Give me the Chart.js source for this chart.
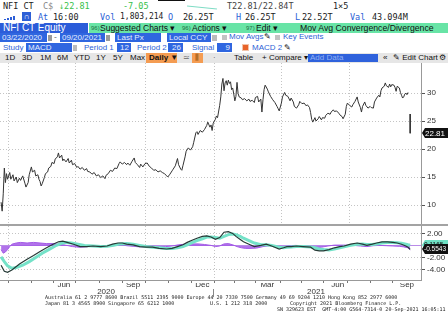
<!DOCTYPE html>
<html>
<head>
<meta charset="utf-8">
<script src="https://cdn.jsdelivr.net/npm/chart.js@4/dist/chart.umd.min.js"></script>
<style>
  body { margin: 0; width: 448px; height: 322px; overflow: hidden; background: #fff; position: relative; font-family: "Liberation Sans", Arial, sans-serif; }
  .t { position: absolute; white-space: pre; line-height: 10px; height: 10px; }
  .mono { font-family: "DejaVu Sans Mono", monospace; font-size: 8.5px; color: #222; }
  .sans { font-size: 8.5px; color: #111; }
  .sm { font-size: 8px; }
  .b { color: #2d5fd6; }
  .g { color: #38bf4c; }
  .box { position: absolute; background: #2f66e0; color: #e6edff; font-size: 8px; line-height: 9px; height: 9px; padding-left: 2px; white-space: pre; box-sizing: border-box; overflow: hidden; }
  .ob { position: absolute; background: #f49c52; color: #111; font-size: 8px; line-height: 10px; height: 10px; white-space: pre; box-sizing: border-box; padding-left: 3px; }
  .chk { position: absolute; width: 5px; height: 5px; background: #c3c3c3; }
  .ico { position: absolute; width: 4px; height: 6px; background: #9a9a9a; }
  .foot { position: absolute; white-space: pre; font-family: "DejaVu Sans Mono", monospace; font-size: 5px; line-height: 6px; color: #222; }
  canvas { position: absolute; left: 0; }
</style>
</head>
<body>
<!-- row 1 -->
<div style="position:absolute;left:158px;top:0;width:27px;height:1px;background:#111"></div>
<div style="position:absolute;left:187px;top:7px;width:30px;height:1px;background:#7fdcc5;transform:rotate(6deg)"></div>
<span class="t mono" style="left:3px;top:1px">NFI CT</span>
<span class="t mono" style="left:43px;top:1px;color:#888">C$</span>
<span class="t mono g" style="left:59px;top:1px">↓22.81</span>
<span class="t mono g" style="left:123px;top:1px">-7.05</span>
<span class="t mono" style="left:227px;top:1px;color:#444">T22.81/22.84T</span>
<span class="t mono" style="left:333px;top:1px">1×5</span>
<!-- row 2 -->
<div style="position:absolute;left:4px;top:19px;width:2px;height:1px;background:#2d5fd6"></div>
<div style="position:absolute;left:7px;top:18px;width:2px;height:2px;background:#2d5fd6"></div>
<div style="position:absolute;left:10px;top:17px;width:2px;height:3px;background:#2d5fd6"></div>
<div style="position:absolute;left:13px;top:16px;width:2px;height:4px;background:#2d5fd6"></div>
<div style="position:absolute;left:22px;top:12px;width:9px;height:9px;background:#2d5fd6;color:#fff;font-size:8px;line-height:9px;text-align:center">∩</div>
<span class="t mono b" style="left:38px;top:12px">At</span>
<span class="t mono" style="left:53px;top:12px">16:00</span>
<span class="t mono b" style="left:100px;top:12px">Vol</span>
<span class="t mono" style="left:120px;top:12px;font-size:8px">1,803,214</span>
<span class="t mono b" style="left:168px;top:12px">O</span>
<span class="t mono" style="left:183px;top:12px">26.25T</span>
<span class="t mono b" style="left:236px;top:12px">H</span>
<span class="t mono" style="left:245px;top:12px">26.25T</span>
<span class="t mono b" style="left:295px;top:12px">L</span>
<span class="t mono" style="left:302px;top:12px">22.52T</span>
<span class="t mono b" style="left:350px;top:12px">Val</span>
<span class="t mono" style="left:372px;top:12px">43.094M</span>
<!-- row 3 -->
<div class="box" style="left:0;top:23px;width:88px;height:10px;line-height:10px;font-size:10px;padding-left:3px;background:#2b5cd9;color:#fff">NFI CT Equity</div>
<div style="position:absolute;left:89px;top:23px;width:359px;height:10px;background:#68e4a6"></div>
<span class="t sans" style="left:91px;top:23px;font-size:6px;color:#1d6e44">96)</span>
<span class="t sans" style="left:100px;top:23px">Suggested Charts ▾</span>
<span class="t sans" style="left:182px;top:23px;font-size:6px;color:#1d6e44">96)</span>
<span class="t sans" style="left:192px;top:23px">Actions ▾</span>
<span class="t sans" style="left:246px;top:23px;font-size:6px;color:#1d6e44">97)</span>
<span class="t sans" style="left:256px;top:23px">Edit ▾</span>
<span class="t sans" style="left:300px;top:23px;font-size:8.7px">Mov Avg Convergence/Divergence</span>
<!-- row 4 -->
<div class="box" style="left:0;top:33px;width:47px">03/22/2020</div>
<div class="ico" style="left:48px;top:35px"></div>
<span class="t sans" style="left:54px;top:32px;color:#777">-</span>
<div class="box" style="left:60px;top:33px;width:45px">09/20/2021</div>
<div class="ico" style="left:106px;top:35px"></div>
<div class="box" style="left:115px;top:33px;width:46px">Last Px</div>
<div class="box" style="left:167px;top:33px;width:44px">Local CCY</div>
<div class="ico" style="left:212px;top:35px;width:5px;background:#bbb"></div>
<div class="chk" style="left:222px;top:35px"></div>
<span class="t sans sm b" style="left:229px;top:32px">Mov Avgs</span>
<span class="t sans sm" style="left:264px;top:32px">✎</span>
<div class="chk" style="left:275px;top:35px"></div>
<span class="t sans sm b" style="left:283px;top:32px">Key Events</span>
<!-- row 5 -->
<span class="t sans sm b" style="left:3px;top:43px">Study</span>
<div class="box" style="left:26px;top:43px;width:46px">MACD</div>
<div class="ico" style="left:73px;top:45px;width:4px;background:#bbb"></div>
<span class="t sans sm b" style="left:84px;top:43px">Period 1</span>
<div class="box" style="left:117px;top:43px;width:14px;text-align:right;padding-right:2px">12</div>
<span class="t sans sm b" style="left:137px;top:43px">Period 2</span>
<div class="box" style="left:168px;top:43px;width:15px;text-align:right;padding-right:2px">26</div>
<span class="t sans sm b" style="left:192px;top:43px">Signal</span>
<div class="box" style="left:217px;top:43px;width:15px;text-align:right;padding-right:2px">9</div>
<div class="chk" style="left:243px;top:45px;background:#e8642a;box-shadow:0 0 0 1px #f3c3a8"></div>
<span class="t sans sm b" style="left:252px;top:43px">MACD 2</span>
<span class="t sans sm" style="left:284px;top:43px">✎</span>
<!-- row 6 -->
<div style="position:absolute;left:0;top:53px;width:448px;height:10px;background:#e6e6e6"></div>
<span class="t sans sm" style="left:5px;top:53px">1D</span>
<span class="t sans sm" style="left:22px;top:53px">3D</span>
<span class="t sans sm" style="left:40px;top:53px">1M</span>
<span class="t sans sm" style="left:57px;top:53px">6M</span>
<span class="t sans sm" style="left:74px;top:53px">YTD</span>
<span class="t sans sm" style="left:96px;top:53px">1Y</span>
<span class="t sans sm" style="left:113px;top:53px">5Y</span>
<span class="t sans sm" style="left:130px;top:53px">Max</span>
<div class="ob" style="left:146px;top:53px;width:31px;font-weight:bold">Daily ▼</div>
<span class="t sans sm" style="left:183px;top:53px;color:#666">≃</span>
<div class="ob" style="left:192px;top:53px;width:11px;color:#7a3a00">⫼</div>
<span class="t sans sm" style="left:213px;top:53px;color:#555">·</span>
<span class="t sans sm" style="left:234px;top:53px">Table</span>
<span class="t sans sm" style="left:262px;top:53px">+ Compare ▾</span>
<div class="box" style="left:308px;top:54px;width:70px;height:8px;line-height:8px;color:#8fb0f2;background:#2f62dc">Add Data</div>
<span class="t sans sm" style="left:383px;top:53px">«</span>
<span class="t sans sm" style="left:393px;top:53px">✎ Edit Chart</span>
<span class="t sans sm" style="left:439px;top:53px">⚙</span>

<canvas id="price" width="448" height="162" style="top:63px"></canvas>
<div style="position:absolute;left:0;top:224px;width:448px;height:2px;background:#a3a3a3"></div>
<canvas id="macd" width="448" height="71" style="top:226px"></canvas>

<div class="foot" style="left:45px;top:294px">Australia 61 2 9777 8600 Brazil 5511 2395 9000 Europe 44 20 7330 7500 Germany 49 69 9204 1210 Hong Kong 852 2977 6000</div>
<div class="foot" style="left:45px;top:300px">Japan 81 3 4565 8900</div>
<div class="foot" style="left:108px;top:300px">Singapore 65 6212 1000</div>
<div class="foot" style="left:210px;top:300px">U.S. 1 212 318 2000</div>
<div class="foot" style="left:290px;top:300px">Copyright 2021 Bloomberg Finance L.P.</div>
<div class="foot" style="left:277px;top:306px">SN 329623 EST  GMT-4:00 G564-7314-0 20-Sep-2021 16:05:11</div>

<script>
// x values are trading-day indexes counted from 03/23/2020
const xMin = -1;
const xMax = 388;

// NFI CT last price, [day, price]
const priceSeries = [
  [0, 10.5], [1, 8.9], [2, 12.0], [3, 16.6], [4, 14.0], [5, 15.6], [6, 14.6], [8, 15.8], [9, 14.6], [11, 15.4],
  [12, 14.3], [14, 15.0], [15, 14.0], [17, 14.8], [18, 14.4], [20, 15.2], [22, 13.9], [23, 13.2], [25, 14.0], [26, 15.4],
  [28, 16.8], [29, 15.9], [31, 16.2], [32, 15.2], [34, 15.4], [35, 14.6], [36, 14.2], [37, 13.4], [38, 13.8], [40, 14.9],
  [41, 15.6], [43, 15.9], [44, 16.6], [46, 16.9], [47, 17.6], [49, 17.4], [50, 18.2], [52, 18.6], [53, 19.3], [54, 18.4],
  [56, 18.9], [57, 17.9], [58, 18.2], [60, 17.7], [62, 18.3], [63, 17.5], [65, 18.0], [66, 17.2], [68, 17.4], [70, 16.7],
  [71, 16.9], [73, 16.4], [75, 16.7], [77, 16.2], [79, 16.5], [80, 16.0], [82, 15.9], [84, 15.5], [86, 15.8], [88, 15.2],
  [90, 15.4], [92, 14.9], [94, 15.2], [96, 14.7], [97, 15.3], [99, 15.6], [101, 16.2], [103, 16.0], [105, 16.6], [107, 16.5],
  [109, 17.4], [110, 17.7], [112, 17.3], [114, 17.6], [116, 17.2], [117, 17.5], [119, 17.1], [121, 17.8], [123, 18.4], [124, 17.6],
  [126, 17.2], [128, 16.7], [129, 17.3], [131, 16.8], [133, 17.4], [135, 17.5], [137, 16.9], [139, 16.6], [141, 16.2], [143, 16.3],
  [145, 15.9], [147, 16.1], [149, 15.8], [151, 15.6], [153, 15.2], [154, 15.0], [156, 15.5], [158, 16.1], [159, 16.4], [161, 17.0],
  [163, 18.3], [164, 17.2], [166, 16.4], [167, 16.2], [168, 17.0], [170, 18.6], [171, 19.6], [173, 20.2], [175, 19.8], [177, 20.4],
  [178, 21.2], [180, 22.9], [181, 23.1], [182, 22.6], [184, 23.3], [186, 23.0], [188, 23.5], [190, 24.2], [191, 24.8], [193, 23.9],
  [194, 24.3], [195, 23.3], [196, 24.6], [198, 25.3], [199, 25.9], [200, 25.6], [202, 27.8], [203, 29.3], [204, 31.6], [205, 32.6],
  [206, 30.4], [207, 31.8], [208, 32.2], [209, 31.4], [210, 32.3], [211, 31.7], [212, 32.0], [213, 30.6], [214, 30.9], [215, 29.8],
  [216, 28.6], [217, 29.4], [218, 31.9], [219, 29.9], [220, 29.3], [222, 29.1], [223, 28.8], [225, 29.0], [227, 28.6], [229, 28.9],
  [230, 28.5], [232, 28.7], [234, 28.3], [235, 29.2], [237, 29.4], [238, 28.4], [240, 28.9], [241, 26.6], [242, 28.8], [243, 30.6],
  [244, 31.4], [246, 30.7], [247, 30.2], [249, 29.4], [251, 28.8], [253, 28.3], [255, 27.6], [256, 27.2], [257, 26.8], [259, 28.2],
  [260, 29.3], [262, 30.1], [263, 29.6], [265, 29.4], [267, 28.6], [268, 29.1], [270, 28.4], [271, 27.6], [273, 27.3], [275, 27.9],
  [276, 28.5], [278, 28.1], [280, 28.2], [282, 27.7], [283, 27.9], [285, 27.4], [286, 26.5], [287, 25.3], [288, 24.8], [290, 25.6],
  [291, 25.0], [293, 25.4], [294, 25.8], [296, 25.2], [297, 25.6], [299, 25.5], [300, 26.0], [302, 26.4], [304, 26.2], [305, 26.6],
  [307, 27.0], [308, 26.7], [310, 26.8], [312, 26.4], [313, 26.1], [315, 25.8], [316, 25.4], [318, 26.2], [319, 27.6], [320, 28.2],
  [322, 27.8], [324, 27.5], [325, 27.9], [327, 28.5], [329, 29.3], [330, 28.4], [332, 27.4], [333, 26.6], [334, 27.6], [336, 28.4],
  [337, 27.8], [339, 27.3], [341, 27.6], [342, 27.4], [344, 27.3], [345, 28.4], [347, 29.1], [349, 29.6], [350, 29.3], [351, 30.4],
  [352, 30.9], [354, 31.2], [355, 31.8], [356, 31.3], [358, 31.0], [359, 31.6], [360, 31.1], [361, 31.5], [363, 31.4], [364, 31.0],
  [365, 30.3], [366, 31.2], [368, 30.9], [369, 30.1], [370, 29.6], [371, 29.1], [372, 29.3], [373, 29.8], [374, 30.0], [375, 29.7],
  [376, 30.1]
];

// last session (09/20/2021): open and last
const lastDayIdx = 378;
const openPx = 26.25;
const lastPx = 22.81;

// MACD(12,26,9) readings, [day, value]
const macdSeries = [
  [0, -3.2], [3, -4.2], [6, -4.4], [10, -4.0], [17, -3.0], [24, -2.2], [30, -1.6], [36, -0.9], [42, -0.3], [48, 0.3],
  [53, 0.7], [57, 0.8], [61, 0.6], [67, 0.3], [73, -0.1], [79, -0.1], [85, 0.0], [92, -0.1], [98, 0.0], [103, 0.3],
  [108, 0.5], [112, 0.5], [116, 0.3], [122, 0.2], [128, -0.1], [134, -0.2], [140, -0.2], [146, -0.4], [153, -0.5], [158, -0.4],
  [163, -0.1], [168, 0.2], [172, 0.6], [177, 1.0], [181, 1.3], [186, 1.6], [190, 1.7], [194, 1.5], [198, 1.1], [202, 1.4],
  [206, 2.3], [210, 2.4], [214, 2.1], [217, 1.6], [221, 1.1], [224, 0.7], [229, 0.3], [234, -0.1], [240, 0.1], [245, 0.3],
  [250, 0.0], [257, -0.5], [261, -0.3], [264, -0.1], [268, -0.1], [273, 0.0], [279, -0.1], [286, -0.2], [290, -0.7], [294, -0.8],
  [298, -0.8], [303, -0.6], [308, -0.3], [313, -0.1], [317, 0.0], [323, 0.3], [329, 0.5], [334, 0.3], [338, 0.1], [343, 0.3],
  [347, 0.5], [352, 0.7], [357, 0.7], [362, 0.6], [366, 0.5], [370, 0.3], [374, 0.0], [376, -0.2], [378, -0.5543]
];

const signalSeries = [
  [0, -1.8], [3, -2.6], [6, -3.3], [10, -3.7], [14, -3.6], [20, -3.2], [26, -2.6], [32, -1.9], [38, -1.2], [44, -0.6],
  [50, 0.0], [55, 0.4], [60, 0.6], [65, 0.5], [71, 0.3], [77, 0.1], [85, 0.0], [92, -0.1], [98, -0.05], [104, 0.1],
  [110, 0.35], [116, 0.4], [122, 0.3], [128, 0.1], [134, -0.1], [140, -0.2], [146, -0.3], [153, -0.4], [158, -0.4], [163, -0.3],
  [168, -0.1], [172, 0.2], [177, 0.6], [181, 0.9], [186, 1.2], [190, 1.5], [194, 1.5], [198, 1.4], [202, 1.3], [206, 1.6],
  [210, 1.9], [214, 2.0], [217, 1.9], [221, 1.6], [224, 1.3], [229, 0.9], [234, 0.5], [240, 0.2], [245, 0.2], [250, 0.1],
  [257, -0.2], [261, -0.3], [264, -0.2], [268, -0.15], [273, -0.1], [279, -0.1], [286, -0.15], [290, -0.3], [294, -0.5], [298, -0.6],
  [303, -0.65], [308, -0.5], [313, -0.3], [317, -0.15], [323, 0.1], [329, 0.3], [334, 0.35], [338, 0.25], [343, 0.25], [347, 0.35],
  [352, 0.5], [357, 0.6], [362, 0.6], [366, 0.55], [370, 0.45], [374, 0.3], [376, 0.2], [378, 0.1165]
];

const histSeries = [
  [0, -0.6], [2, -1.2], [4, -1.0], [6, -0.6], [8, -0.1], [10, 0.3], [14, 0.5], [18, 0.6], [24, 0.5], [30, 0.6],
  [36, 0.5], [42, 0.4], [48, 0.4], [53, 0.3], [58, 0.2], [62, 0.05], [66, -0.1], [72, -0.2], [78, -0.15], [85, 0.0],
  [92, -0.05], [98, 0.05], [104, 0.15], [110, 0.2], [116, 0.05], [122, -0.05], [128, -0.15], [134, -0.1], [140, -0.05], [146, -0.1],
  [152, -0.1], [158, 0.0], [164, 0.2], [170, 0.3], [176, 0.35], [182, 0.35], [188, 0.25], [194, 0.1], [198, -0.1], [202, 0.0],
  [206, 0.35], [210, 0.4], [214, 0.2], [218, -0.1], [222, -0.3], [226, -0.4], [230, -0.4], [236, -0.35], [242, -0.1], [248, 0.05],
  [254, -0.1], [260, -0.25], [266, 0.05], [272, 0.1], [278, 0.05], [284, -0.05], [290, -0.25], [296, -0.2], [302, 0.0], [308, 0.15],
  [314, 0.15], [320, 0.15], [326, 0.1], [332, 0.0], [338, -0.1], [344, 0.05], [350, 0.1], [356, 0.05], [362, 0.0], [368, -0.05],
  [372, -0.15], [376, -0.3], [378, -0.65]
];

const priceTicks = [10, 15, 20, 25, 30];
const macdTicks = [2, 0, -2, -4];
const quarterStarts = [7, 69, 133, 197, 259, 322];
const monthStarts = [7, 28, 48, 69, 91, 112, 133, 155, 176, 197, 216, 235, 258, 278, 298, 320, 341, 362];
const monthMid = [58, 122, 186, 246, 311, 375];
const monthLabels = ['Jun', 'Sep', 'Dec', 'Mar', 'Jun', 'Sep'];
const yearMid = [97, 196, 291];
const yearLabels = ['2020', '', '2021'];

const tickFont = { family: 'Liberation Sans', size: 8, lineHeight: 1 };
const gridGrey = '#c4c4c4';
const dots = [1, 2];
const none = 'rgba(0,0,0,0)';

const toPoints = (arr) => arr.map(([x, y]) => ({ x, y }));
const setTicks = (values) => (scale) => { scale.ticks = values.map((v) => ({ value: v })); };
const rightAxisFit = (scale) => { scale.width = 27; scale.paddingTop = 0; scale.paddingBottom = 0; };
const bottomFit = (h) => (scale) => { scale.height = h; scale.paddingLeft = 0; scale.paddingRight = 0; };
const tickVal = (ctx) => (ctx.tick ? ctx.tick.value : null);
const lastOf = (arr) => arr[arr.length - 1][1];

// value tags on the right axis
const tagPlugin = {
  id: 'tags',
  afterDraw(chart, args, opts) {
    const { ctx, chartArea } = chart;
    const y = chart.scales.y;
    (opts.items || []).forEach((item) => {
      const py = Math.round(y.getPixelForValue(item.value));
      const left = chartArea.right + 1;
      ctx.save();
      ctx.fillStyle = item.bg;
      ctx.beginPath();
      ctx.moveTo(left, py);
      ctx.lineTo(left + 3, py - 5);
      ctx.lineTo(chart.width, py - 5);
      ctx.lineTo(chart.width, py + 5);
      ctx.lineTo(left + 3, py + 5);
      ctx.closePath();
      ctx.fill();
      ctx.fillStyle = item.fg;
      ctx.font = (item.size || 8) + 'px "Liberation Sans"';
      ctx.textBaseline = 'middle';
      ctx.fillText(item.text, left + (item.inset || 3), py + 0.5, chart.width - left - 2);
      ctx.restore();
    });
  }
};

const baseOptions = {
  responsive: false,
  animation: false,
  events: [],
  layout: { padding: 0 },
};

new Chart(document.getElementById('price'), {
  type: 'line',
  data: {
    datasets: [
      { data: toPoints(priceSeries), borderColor: '#333', borderWidth: 1, pointRadius: 0 },
      { data: [{ x: lastDayIdx, y: openPx }, { x: lastDayIdx, y: lastPx }], borderColor: '#333', borderWidth: 1, pointRadius: 0 }
    ]
  },
  options: {
    ...baseOptions,
    plugins: {
      legend: { display: false },
      tooltip: { enabled: false },
      tags: { items: [{ value: lastPx, text: lastPx.toFixed(2), bg: '#111', fg: '#fff' }] }
    },
    scales: {
      x: {
        type: 'linear', min: xMin, max: xMax,
        afterBuildTicks: setTicks(quarterStarts),
        ticks: { display: false },
        grid: { color: gridGrey, drawTicks: false },
        border: { display: false, dash: dots },
        afterFit: bottomFit(0)
      },
      y: {
        position: 'right', min: 6.43, max: 35.357,
        afterBuildTicks: setTicks(priceTicks),
        ticks: { font: tickFont, color: '#333', padding: 2, callback: (v) => String(v) },
        grid: { color: gridGrey, tickColor: '#555', tickLength: 4 },
        border: { color: '#999', dash: dots },
        afterFit: rightAxisFit
      }
    }
  },
  plugins: [tagPlugin]
});

new Chart(document.getElementById('macd'), {
  type: 'line',
  data: {
    datasets: [
      { data: toPoints(macdSeries), borderColor: '#263a36', borderWidth: 1.2, pointRadius: 0 },
      { data: toPoints(signalSeries), borderColor: '#74e2c8', borderWidth: 3, pointRadius: 0 },
      { data: toPoints(histSeries), borderColor: '#a35ae6', backgroundColor: 'rgba(163,90,230,0.85)', borderWidth: 1, pointRadius: 0, fill: 'origin' }
    ]
  },
  options: {
    ...baseOptions,
    plugins: {
      legend: { display: false },
      tooltip: { enabled: false },
      tags: {
        items: [
          { value: lastOf(signalSeries), text: lastOf(signalSeries).toFixed(4), bg: '#6fe0c4', fg: '#111', size: 6.5, inset: 2 },
          { value: lastOf(macdSeries), text: lastOf(macdSeries).toFixed(4), bg: '#111', fg: '#fff', size: 6.5, inset: 2 }
        ]
      }
    },
    scales: {
      x: {
        type: 'linear', min: xMin, max: xMax, weight: 0,
        afterBuildTicks: setTicks(monthStarts),
        ticks: { display: false, autoSkip: false },
        grid: {
          color: (ctx) => (quarterStarts.includes(tickVal(ctx)) ? gridGrey : none),
          tickColor: '#777', tickLength: 3
        },
        border: { color: '#999', dash: dots },
        afterFit: bottomFit(3)
      },
      xMonth: {
        type: 'linear', position: 'bottom', min: xMin, max: xMax, weight: 1,
        afterBuildTicks: setTicks(monthMid),
        ticks: { font: tickFont, color: '#333', padding: -2, autoSkip: false, maxRotation: 0, callback: (v, i) => monthLabels[i] },
        grid: { display: false, drawTicks: false },
        border: { display: false },
        afterFit: bottomFit(6)
      },
      xYear: {
        type: 'linear', position: 'bottom', min: xMin, max: xMax, weight: 2,
        afterBuildTicks: setTicks(yearMid),
        ticks: { font: tickFont, color: '#333', padding: -9, autoSkip: false, maxRotation: 0, callback: (v, i) => yearLabels[i] },
        grid: {
          drawOnChartArea: false, tickLength: 8,
          tickColor: (ctx) => (tickVal(ctx) === yearMid[1] ? '#888' : none)
        },
        border: { display: false },
        afterFit: bottomFit(8)
      },
      y: {
        position: 'right', min: -5.667, max: 3.333,
        afterBuildTicks: setTicks(macdTicks),
        ticks: { font: tickFont, color: '#333', padding: 2, callback: (v) => (v === 0 ? '' : v.toFixed(2)) },
        grid: {
          color: (ctx) => (tickVal(ctx) === 0 ? '#b98be8' : gridGrey),
          tickColor: (ctx) => (tickVal(ctx) === 0 ? none : '#555'),
          tickLength: 4
        },
        border: { color: '#999', dash: (ctx) => (tickVal(ctx) === 0 ? [] : dots) },
        afterFit: rightAxisFit
      }
    }
  },
  plugins: [tagPlugin]
});
</script>
</body>
</html>
